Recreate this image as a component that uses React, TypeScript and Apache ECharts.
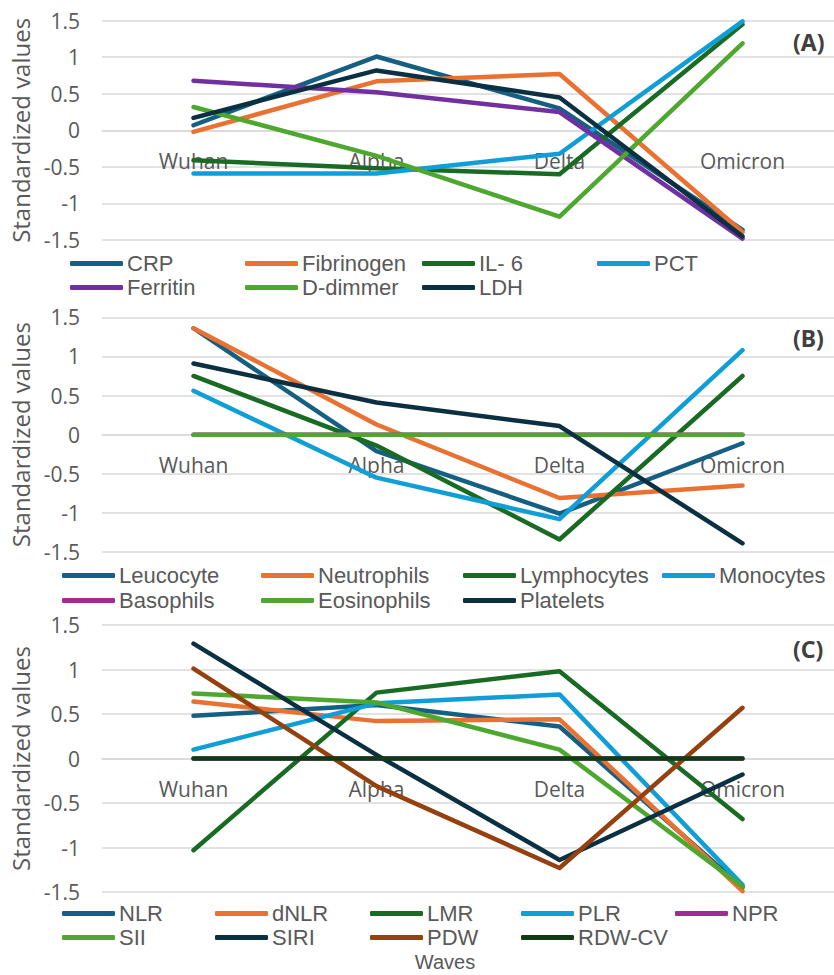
import React, { useEffect, useRef } from "react";
import * as echarts from "echarts";

const waves = ["Wuhan", "Alpha", "Delta", "Omicron"];

const namesA = ["CRP", "Fibrinogen", "IL- 6", "PCT", "Ferritin", "D-dimmer", "LDH"];
const crp = [0.07, 1.01, 0.3, -1.36];
const fibrinogen = [-0.02, 0.67, 0.77, -1.39];
const il6 = [-0.41, -0.52, -0.6, 1.45];
const pct = [-0.59, -0.59, -0.32, 1.49];
const ferritin = [0.68, 0.52, 0.25, -1.48];
const ddimmer = [0.32, -0.35, -1.18, 1.19];
const ldh = [0.17, 0.82, 0.45, -1.45];
const valuesA = [crp, fibrinogen, il6, pct, ferritin, ddimmer, ldh];

const namesB = ["Leucocyte", "Neutrophils", "Lymphocytes", "Monocytes", "Basophils", "Eosinophils", "Platelets"];
const leucocyte = [1.36, -0.21, -1.01, -0.11];
const neutrophils = [1.36, 0.13, -0.81, -0.65];
const lymphocytes = [0.75, -0.14, -1.34, 0.75];
const monocytes = [0.56, -0.55, -1.08, 1.08];
const basophils = [0, 0, 0, 0];
const eosinophils = [0, 0, 0, 0];
const platelets = [0.91, 0.41, 0.11, -1.39];
const valuesB = [leucocyte, neutrophils, lymphocytes, monocytes, basophils, eosinophils, platelets];

const namesC = ["NLR", "dNLR", "LMR", "PLR", "NPR", "SII", "SIRI", "PDW", "RDW-CV"];
const nlr = [0.48, 0.6, 0.36, -1.45];
const dnlr = [0.64, 0.42, 0.44, -1.49];
const lmr = [-1.03, 0.74, 0.98, -0.68];
const plr = [0.1, 0.62, 0.72, -1.42];
const npr = [0, 0, 0, 0];
const sii = [0.73, 0.63, 0.1, -1.44];
const siri = [1.29, 0.04, -1.14, -0.18];
const pdw = [1.01, -0.31, -1.23, 0.57];
const rdwcv = [0, 0, 0, 0];
const valuesC = [nlr, dnlr, lmr, plr, npr, sii, siri, pdw, rdwcv];

const yTicks = { min: -1.5, max: 1.5, interval: 0.5 };

const colorsA = ["#156082", "#E97132", "#196B24", "#0F9ED5", "#7030A0", "#4EA72E", "#0B3041"];
const colorsB = ["#156082", "#E97132", "#196B24", "#0F9ED5", "#A02B93", "#4EA72E", "#0B3041"];
const colorsC = ["#156082", "#E97132", "#196B24", "#0F9ED5", "#A02B93", "#4EA72E", "#0B3041", "#94400F", "#0F3B15"];

const panelLabels = ["(A)", "(B)", "(C)"];

const TEXT = "#595959";
const TICK_FONT = "'Open Sans', 'Noto Sans', sans-serif";
const LEG_FONT = "'Liberation Sans', Arial, sans-serif";

export default function App() {
  const ref = useRef<HTMLDivElement>(null);
  useEffect(() => {
    document.body.style.margin = "0";
    const chart = echarts.init(ref.current!, null, { renderer: "svg" });

    const grids = [
      { left: 102, width: 734, top: 20.7, height: 219.3 },
      { left: 102, width: 734, top: 317.3, height: 234.7 },
      { left: 102, width: 734, top: 625, height: 267 },
    ];

    // value range is symmetric, so the zero line sits at the vertical middle of each grid
    const xAxes = grids.map((g, i) => ({
      type: "category",
      gridIndex: i,
      data: waves,
      boundaryGap: true,
      position: "bottom",
      offset: -g.height / 2,
      axisLine: { show: true, onZero: false, lineStyle: { color: "#D9D9D9", width: 1.5 } },
      axisTick: { show: false },
      axisLabel: { margin: 20, fontSize: 21, color: TEXT, fontFamily: TICK_FONT },
      z: 1,
    }));

    const yAxes = grids.map((_, i) => ({
      type: "value",
      gridIndex: i,
      min: yTicks.min,
      max: yTicks.max,
      interval: yTicks.interval,
      name: "Standardized values",
      nameLocation: "middle",
      nameGap: 66,
      nameTextStyle: { fontSize: 24, color: TEXT, fontFamily: TICK_FONT },
      axisLine: { show: false },
      axisTick: { show: false },
      axisLabel: { margin: 22, fontSize: 21, color: TEXT, fontFamily: TICK_FONT },
      splitLine: { show: true, lineStyle: { color: "#D9D9D9", width: 1.5 } },
    }));

    const panels = [
      { names: namesA, values: valuesA, colors: colorsA },
      { names: namesB, values: valuesB, colors: colorsB },
      { names: namesC, values: valuesC, colors: colorsC },
    ];

    const series: any[] = [];
    panels.forEach((p, gi) => {
      p.names.forEach((n, k) => {
        series.push({
          type: "line",
          name: n,
          xAxisIndex: gi,
          yAxisIndex: gi,
          data: p.values[k],
          symbol: "none",
          color: p.colors[k],
          lineStyle: { width: 4.5, color: p.colors[k], cap: "round", join: "round" },
          z: 3,
        });
      });
    });

    const legendLayouts = [
      { cols: [70, 245, 422, 597], rows: [263, 287], perRow: 4 },
      { cols: [62, 261, 463, 662], rows: [575, 600], perRow: 4 },
      { cols: [62, 215, 370, 521, 675], rows: [913, 937], perRow: 5 },
    ];

    const legends: any[] = [];
    panels.forEach((p, gi) => {
      const L = legendLayouts[gi];
      p.names.forEach((n, k) => {
        const r = Math.floor(k / L.perRow);
        const c = k % L.perRow;
        legends.push({
          data: [n],
          left: L.cols[c],
          top: L.rows[r] - 10.5,
          padding: 0,
          icon: "roundRect",
          itemWidth: 53,
          itemHeight: 5,
          selectedMode: false,
          textStyle: { fontSize: 22, lineHeight: 21, color: TEXT, fontFamily: LEG_FONT, padding: [0, 0, 0, -1] },
        });
      });
    });

    const labelY = [42, 338, 649];
    const graphics: any[] = panelLabels.map((t, i) => ({
      type: "text",
      left: 793,
      top: labelY[i] - 12,
      style: {
        text: t,
        fontSize: 23,
        fontWeight: "bold",
        fill: "#404040",
        fontFamily: "'Liberation Sans Narrow', 'Noto Sans', sans-serif",
      },
    }));
    graphics.push({
      type: "text",
      x: 445,
      y: 962,
      style: {
        text: "Waves",
        fontSize: 20,
        fill: TEXT,
        fontFamily: LEG_FONT,
        align: "center",
        verticalAlign: "middle",
      },
    });

    chart.setOption({
      animation: false,
      backgroundColor: "#ffffff",
      grid: grids,
      xAxis: xAxes,
      yAxis: yAxes,
      series,
      legend: legends,
      graphic: graphics,
    });
    return () => chart.dispose();
  }, []);
  return <div ref={ref} style={{ width: 834, height: 975, position: "absolute", left: 0, top: 0 }} />;
}
